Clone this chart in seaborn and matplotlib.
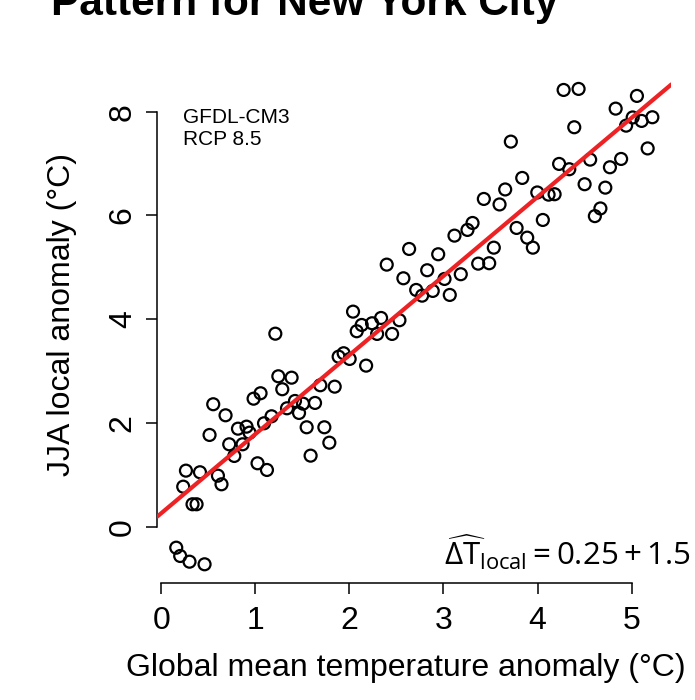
import numpy as np
import pandas as pd
import matplotlib
matplotlib.use("Agg")
import matplotlib.pyplot as plt
import seaborn as sns

# Data (global anomaly, local JJA anomaly)
global_anom = [0.160, 0.202, 0.301, 0.461, 0.333, 0.376, 0.234, 0.263, 0.412, 0.603,
               0.641, 0.514, 0.723, 0.777, 0.865, 0.816, 0.907, 0.939, 0.684, 0.553,
               1.213, 1.024, 1.124, 1.093, 1.173, 0.982, 1.056, 1.245, 1.386, 1.287,
               1.337, 1.422, 1.507, 1.465, 1.635, 1.546, 1.734, 1.787, 1.588, 1.691,
               1.844, 1.886, 1.939, 2.003, 2.178, 2.039, 2.078, 2.131, 2.241, 2.337,
               2.295, 2.454, 2.532, 2.397, 2.635, 2.574, 2.710, 2.773, 2.886, 3.067,
               2.827, 2.944, 3.011, 3.184, 3.117, 3.255, 3.309, 3.369, 3.486, 3.535,
               3.429, 3.596, 3.656, 3.716, 3.777, 3.837, 3.890, 3.950, 3.997, 4.056,
               4.117, 4.181, 4.229, 4.277, 4.436, 4.337, 4.390, 4.500, 4.559, 4.668,
               4.609, 4.720, 4.769, 4.888, 4.830, 5.056, 5.011, 4.941, 5.106, 5.220,
               5.170]
local_anom = [-0.405, -0.565, -0.675, -0.725, 0.432, 0.432, 0.771, 1.080, 1.049, 0.983,
              0.817, 1.768, 1.588, 1.363, 1.588, 1.889, 1.928, 1.812, 2.147, 2.360,
              3.720, 1.222, 1.093, 1.993, 2.128, 2.467, 2.572, 2.899, 2.872, 2.649,
              2.282, 2.423, 2.371, 2.192, 2.385, 1.916, 1.916, 1.619, 1.369, 2.726,
              2.699, 3.277, 3.343, 3.233, 3.104, 4.145, 3.767, 3.888, 3.921, 4.023,
              3.715, 3.715, 3.979, 5.051, 5.353, 4.788, 4.563, 4.453, 4.544, 4.467,
              4.943, 5.251, 4.775, 4.866, 5.610, 5.720, 5.854, 5.070, 5.078, 5.378,
              6.317, 6.211, 6.500, 7.422, 5.758, 6.722, 5.571, 5.378, 6.442, 5.912,
              6.400, 6.408, 6.992, 8.418, 8.438, 6.890, 7.699, 6.601, 7.075, 6.134,
              5.986, 6.535, 6.928, 7.088, 8.058, 8.303, 7.888, 7.730, 7.821, 7.892,
              7.291]
x_ticks = [0, 1, 2, 3, 4, 5]
y_ticks = [0, 2, 4, 6, 8]
title = "Pattern for New York City"
model_label = "GFDL-CM3\nRCP 8.5"
equation = r"$\widehat{\Delta \mathrm{T}}_{\mathrm{local}} = 0.25 + 1.5\ \Delta \mathrm{T}_{\mathrm{global}}$"

df = pd.DataFrame({"global": global_anom, "local": local_anom})

sns.set_style("white")
plt.rcParams["font.family"] = ["Liberation Sans", "DejaVu Sans"]
plt.rcParams["mathtext.fontset"] = "custom"
plt.rcParams["mathtext.rm"] = "Open Sans"
plt.rcParams["mathtext.it"] = "Open Sans:italic"
plt.rcParams["text.color"] = "black"
plt.rcParams["axes.labelcolor"] = "black"
plt.rcParams["xtick.color"] = "black"
plt.rcParams["ytick.color"] = "black"

W, H = 695, 700
fig = plt.figure(figsize=(W / 100, H / 100), dpi=100)
left, right, top, bottom = 157.2, 671.4, 69.9, 583.3
ax = fig.add_axes([left / W, 1 - bottom / H, (right - left) / W, (bottom - top) / H])

x_range = max(global_anom) - min(global_anom)
y_range = max(local_anom) - min(local_anom)
ax.set_xlim(min(global_anom) - 0.04 * x_range, max(global_anom) + 0.04 * x_range)
ax.set_ylim(min(local_anom) - 0.04 * y_range, max(local_anom) + 0.04 * y_range)

sns.scatterplot(data=df, x="global", y="local", ax=ax, marker="o", s=74,
                facecolor="none", edgecolor="black", linewidth=1.6, zorder=2)
sns.regplot(data=df, x="global", y="local", ax=ax, scatter=False, ci=None,
            truncate=False, line_kws={"color": "#ED2224", "linewidth": 3.0, "zorder": 3})

ax.set_xlabel("")
ax.set_ylabel("")
ax.set_xticks(x_ticks)
ax.set_yticks(y_ticks)
for s in ["top", "right"]:
    ax.spines[s].set_visible(False)
ax.spines["left"].set_bounds(min(y_ticks), max(y_ticks))
ax.spines["bottom"].set_bounds(min(x_ticks), max(x_ticks))
for s in ["left", "bottom"]:
    ax.spines[s].set_linewidth(1.1)
    ax.spines[s].set_color("black")
ax.tick_params(axis="both", direction="out", length=8, width=1.1, colors="black",
               labelsize=23, left=True, bottom=True)
ax.tick_params(axis="x", pad=8)
ax.tick_params(axis="y", pad=6, labelrotation=90)
for lab in ax.get_yticklabels():
    lab.set_verticalalignment("center")

fig.text(51 / W, 1 - 15 / H, title, fontsize=30.5, fontweight="bold",
         ha="left", va="baseline")
fig.text(62 / W, 1 - 314 / H, "JJA local anomaly (°C)", fontsize=23,
         rotation=90, ha="center", va="center")
fig.text(406 / W, 1 - 676 / H, "Global mean temperature anomaly (°C)", fontsize=23,
         ha="center", va="baseline")
ax.text(183 / W, 1 - 108 / H, model_label, transform=fig.transFigure, fontsize=15,
        ha="left", va="top", linespacing=1.2)
fig.text(444 / W, 1 - 566 / H, equation, fontsize=22.5, ha="left", va="baseline")

fig.savefig("out.png", dpi=100)
